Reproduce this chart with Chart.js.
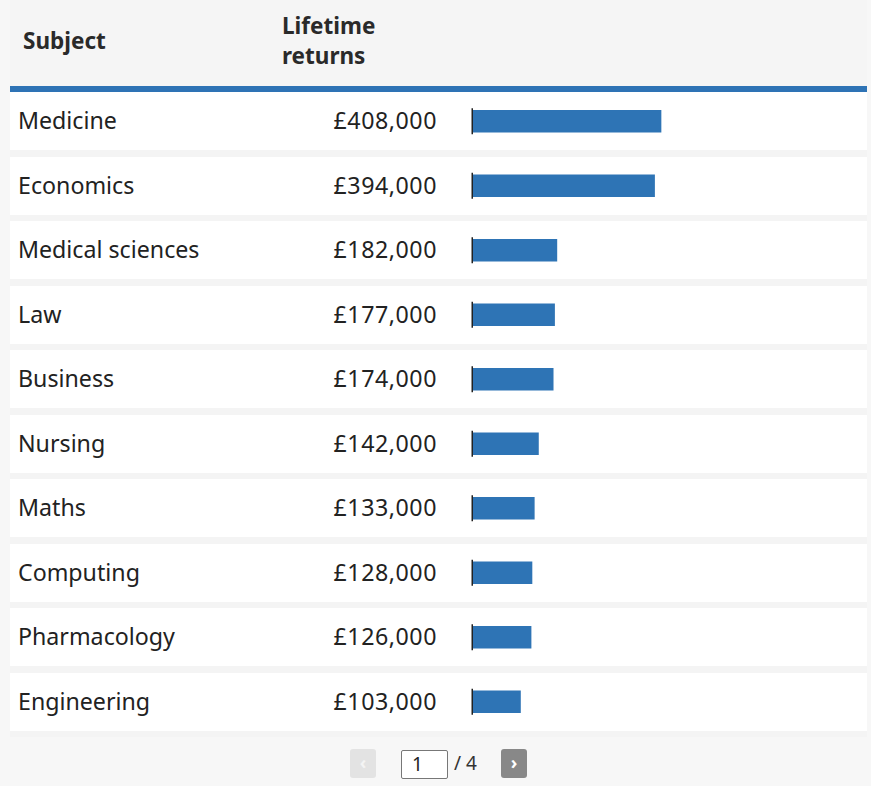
<!DOCTYPE html>
<html>
<head>
<meta charset="utf-8">
<script src="https://cdn.jsdelivr.net/npm/chart.js@4.4.1/dist/chart.umd.min.js"></script>
<style>
  html, body { margin: 0; padding: 0; }
  body {
    width: 871px; height: 786px; overflow: hidden; position: relative;
    background: #f7f7f7; font-family: "Noto Sans", sans-serif; color: #222;
  }
  .table-bg { position: absolute; left: 10px; top: 0; width: 857px; height: 737px; background: #f4f4f4; }
  .head { position: absolute; left: 10px; top: 0; width: 857px; height: 86px; background: #f5f5f5; }
  .head-rule { position: absolute; left: 10px; top: 86px; width: 857px; height: 6px; background: #2e73b5; }
  .th { position: absolute; font-weight: bold; font-size: 22.5px; line-height: 30px; color: #2a2a2a; }
  .row { position: absolute; left: 10px; width: 857px; height: 58px; background: #fff; }
  .row .name { position: absolute; left: 8px; top: -1px; line-height: 58px; font-size: 23.2px; }
  .row .val { position: absolute; right: 430px; top: -1px; line-height: 58px; font-size: 23.2px; letter-spacing: 0.55px; }
  #chartWrap { position: absolute; left: 463px; top: 89px; width: 404px; height: 645px; }
  .pager { position: absolute; top: 749px; height: 29px; }
  .btn { width: 26px; border-radius: 3px; text-align: center; line-height: 27px; font-size: 18px; font-weight: bold; }
  .prev { left: 350px; background: #e3e3e3; color: #f4f4f4; }
  .next { left: 501px; background: #888; color: #fff; }
  .page-box { left: 401px; top: 750px; width: 45px; height: 27px; background: #fff; border: 1px solid #777;
    border-radius: 2px; font-size: 19px; line-height: 27px; padding-left: 0; }
  .page-box span { position: absolute; left: 10px; }
  .total { left: 454px; font-size: 19px; line-height: 29px; color: #333; }
</style>
</head>
<body>
<div class="table-bg"></div>
<div class="head"></div>
<div class="th" style="left:23px; top:26px;">Subject</div>
<div class="th" style="left:282px; top:11px;">Lifetime<br>returns</div>
<div class="head-rule"></div>
<div id="rows"></div>
<div id="chartWrap"><canvas id="bars"></canvas></div>

<div class="pager btn prev">&#8249;</div>
<div class="pager page-box"><span>1</span></div>
<div class="pager total">/ 4</div>
<div class="pager btn next">&#8250;</div>

<script>
// ================================
// Data
// ================================
const subjects = ["Medicine", "Economics", "Medical sciences", "Law", "Business",
  "Nursing", "Maths", "Computing", "Pharmacology", "Engineering"];
const returns = [408000, 394000, 182000, 177000, 174000, 142000, 133000, 128000, 126000, 103000];
const xMax = 855000;

// ================================
// Table rows (text)
// ================================
const rowsEl = document.getElementById("rows");
const fmt = v => "£" + v.toLocaleString("en-GB");
subjects.forEach((s, i) => {
  const row = document.createElement("div");
  row.className = "row";
  row.style.top = (92 + i * 64.5) + "px";
  row.innerHTML = `<div class="name">${s}</div><div class="val">${fmt(returns[i])}</div>`;
  rowsEl.appendChild(row);
});

// ================================
// Small baseline tick next to each bar
// ================================
const baseTick = {
  id: "baseTick",
  afterDatasetsDraw(chart) {
    const { ctx, scales } = chart;
    const x0 = scales.x.getPixelForValue(0);
    chart.getDatasetMeta(0).data.forEach(bar => {
      const h = bar.height / 2 + 2;
      ctx.save();
      ctx.fillStyle = "#222";
      ctx.fillRect(x0 - 1.5, bar.y - h, 1.5, h * 2);
      ctx.restore();
    });
  }
};

// ================================
// Bars
// ================================
new Chart(document.getElementById("bars"), {
  type: "bar",
  plugins: [baseTick],
  data: {
    labels: subjects,
    datasets: [{
      data: returns,
      backgroundColor: "#2e74b5",
      barThickness: 22,
      borderWidth: 0
    }]
  },
  options: {
    indexAxis: "y",
    responsive: true,
    maintainAspectRatio: false,
    animation: false,
    layout: { padding: { left: 10, right: 0, top: 0, bottom: 0 } },
    plugins: { legend: { display: false }, tooltip: { enabled: false } },
    scales: {
      x: { display: false, min: 0, max: xMax },
      y: { display: false }
    }
  }
});
</script>
</body>
</html>
